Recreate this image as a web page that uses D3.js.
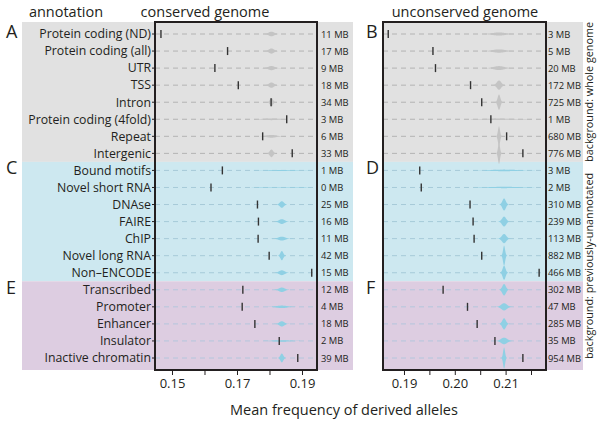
<!DOCTYPE html>
<html><head><meta charset="utf-8">
<script src="https://cdn.jsdelivr.net/npm/d3@7"></script>
<style>
body{margin:0;background:#fff}
svg{display:block;font-family:"Open Sans",sans-serif}
</style>
</head><body>
<svg id="chart" width="600" height="422"></svg>
<script>
// ---------------- data ----------------
const categories = ["Protein coding (ND)","Protein coding (all)","UTR","TSS","Intron","Protein coding (4fold)","Repeat","Intergenic",
  "Bound motifs","Novel short RNA","DNAse","FAIRE","ChIP","Novel long RNA","Non\u2013ENCODE",
  "Transcribed","Promoter","Enhancer","Insulator","Inactive chromatin"];
const rowGroup = [0,0,0,0,0,0,0,0, 1,1,1,1,1,1,1, 2,2,2,2,2];
const leftLetters = ["A","C","E"];
const rightLetters = ["B","D","F"];
const sideLabels = ["background: whole genome","background: previously-unannotated"];

// conserved genome
const consMean = [0.1466,0.1671,0.1632,0.1704,0.1805,0.1853,0.1779,0.1870,
  0.1655,0.1620,0.1763,0.1766,0.1765,0.1799,0.1930,
  0.1718,0.1716,0.1755,0.1830,0.1887];
const consSizeMB = [11,17,9,18,34,3,6,33, 1,0,25,16,11,42,15, 12,4,18,2,39];
const consBgCenter = [0.1806,0.1806,0.1806,0.1806,0.1806,0.1806,0.1806,0.1806,
  0.1838,0.1838,0.1838,0.1838,0.1838,0.1838,0.1838,
  0.1838,0.1838,0.1838,0.1838,0.1838];
const consBgSpread = [0.00087,0.00077,0.00095,0.00074,0.00046,0.0023,0.0014,0.00052,
  0.004,0.006,0.0006,0.00083,0.001,0.00043,0.00083,
  0.0009,0.0016,0.00075,0.0025,0.00045];

// unconserved genome
const uncMean = [0.1869,0.1957,0.1962,0.2031,0.2053,0.2071,0.2102,0.2134,
  0.1931,0.1934,0.2030,0.2036,0.2038,0.2053,0.2166,
  0.1977,0.2025,0.2044,0.2079,0.2134];
const uncSizeMB = [3,5,20,172,725,1,680,776, 3,2,310,239,113,882,466, 302,47,285,35,954];
const uncBgCenter = [0.2087,0.2087,0.2087,0.2087,0.2087,0.2087,0.2087,0.2087,
  0.2097,0.2097,0.2097,0.2097,0.2097,0.2097,0.2097,
  0.2097,0.2097,0.2097,0.2097,0.2097];
const uncBgSpread = [0.0013,0.0012,0.001,0.00043,0.00026,0.003,0.0002,0.00019,
  0.0025,0.003,0.00033,0.0004,0.00043,0.0002,0.00028,
  0.00035,0.00055,0.00035,0.0006,0.00019];

const consTicks = [0.15,0.16,0.17,0.18,0.19];
const consTickLabels = [0.15,0.17,0.19];
const uncTicks = [0.19,0.195,0.20,0.205,0.21,0.215];
const uncTickLabels = [0.19,0.20,0.21];

// ---------------- layout ----------------
(function draw() {
const svg = d3.select("#chart");
const topY = 22, bottomY = 370;
const bandFill = ["#e1e1e1","#cde8f0","#ddcde1"];
const violinFill = ["#c4c4c4","#8fd0e4","#8fd0e4"];
const dashColor = ["#b3b3b3","#a6cad8","#b3c6dc"];
const ink = "#231f20";
const K = 0.005;

const y = d3.scalePoint().domain(d3.range(categories.length)).range([34, 358]);
const step = y.step();
const xL = d3.scaleLinear().domain([0.14477, 0.19462]).range([155, 317]);
const xR = d3.scaleLinear().domain([0.18587, 0.21795]).range([383, 546]);

const groups = d3.range(3).map(g => {
  const rows = d3.range(categories.length).filter(i => rowGroup[i] === g);
  return {g, first: d3.min(rows), last: d3.max(rows)};
});
groups.forEach((gr, k) => {
  gr.y0 = k === 0 ? topY : y(gr.first) - step / 2;
  gr.y1 = k === groups.length - 1 ? bottomY : y(gr.last) + step / 2;
});

groups.forEach(gr => {
  svg.append("rect").attr("x", 22).attr("y", gr.y0).attr("width", 353 - 22).attr("height", gr.y1 - gr.y0).attr("fill", bandFill[gr.g]);
  svg.append("rect").attr("x", 383).attr("y", gr.y0).attr("width", 583 - 383).attr("height", gr.y1 - gr.y0).attr("fill", bandFill[gr.g]);
});

const defs = svg.append("defs");
[["clipL", xL], ["clipR", xR]].forEach(([id, xs]) => {
  defs.append("clipPath").attr("id", id).append("rect")
    .attr("x", xs.range()[0]).attr("y", topY).attr("width", xs.range()[1] - xs.range()[0]).attr("height", bottomY - topY);
});

function violin(xs, cx, sd, yy) {
  const n = 80, pts = [];
  for (let i = 0; i <= n; i++) {
    const t = -3.5 * sd + 7 * sd * i / n;
    const pdf = Math.exp(-0.5 * (t / sd) * (t / sd)) / (sd * Math.sqrt(2 * Math.PI));
    pts.push([xs(cx + t), pdf * K]);
  }
  return d3.area().x(d => d[0]).y0(d => yy - d[1]).y1(d => yy + d[1]).curve(d3.curveBasis)(pts);
}

function panel(xs, clipId, means, centers, spreads) {
  const g = svg.append("g").attr("clip-path", `url(#${clipId})`);
  const rows = d3.range(categories.length);
  g.selectAll("line.dash").data(rows).join("line").attr("class", "dash")
    .attr("x1", xs.range()[0]).attr("x2", xs.range()[1])
    .attr("y1", i => y(i)).attr("y2", i => y(i))
    .attr("stroke", i => dashColor[rowGroup[i]]).attr("stroke-width", 1)
    .attr("stroke-dasharray", "5,4");
  g.selectAll("path.v").data(rows).join("path").attr("class", "v")
    .attr("d", i => violin(xs, centers[i], spreads[i], y(i)))
    .attr("fill", i => violinFill[rowGroup[i]]);
  g.selectAll("line.m").data(rows).join("line").attr("class", "m")
    .attr("x1", i => xs(means[i])).attr("x2", i => xs(means[i]))
    .attr("y1", i => y(i) - 4).attr("y2", i => y(i) + 4)
    .attr("stroke", "#333").attr("stroke-width", 1.4);
  svg.append("rect").attr("x", xs.range()[0]).attr("y", topY)
    .attr("width", xs.range()[1] - xs.range()[0]).attr("height", bottomY - topY)
    .attr("fill", "none").attr("stroke", ink).attr("stroke-width", 2);
}

panel(xL, "clipL", consMean, consBgCenter, consBgSpread);
panel(xR, "clipR", uncMean, uncBgCenter, uncBgSpread);

svg.selectAll("line.rt").data(d3.range(categories.length)).join("line").attr("class", "rt")
  .attr("x1", 152).attr("x2", 155).attr("y1", i => y(i)).attr("y2", i => y(i))
  .attr("stroke", ink).attr("stroke-width", 1);

svg.selectAll("text.cat").data(categories).join("text").attr("class", "cat")
  .attr("x", 151).attr("y", (d, i) => y(i) + 4.3)
  .attr("text-anchor", "end").attr("font-size", 12.3).attr("fill", ink).text(d => d);

svg.selectAll("text.sl").data(consSizeMB).join("text").attr("class", "sl")
  .attr("x", 321).attr("y", (d, i) => y(i) + 3.5)
  .attr("font-size", 9.4).attr("fill", ink).text(d => `${d} MB`);
svg.selectAll("text.sr").data(uncSizeMB).join("text").attr("class", "sr")
  .attr("x", 548).attr("y", (d, i) => y(i) + 3.5)
  .attr("font-size", 9.4).attr("fill", ink).text(d => `${d} MB`);

groups.forEach((gr, k) => {
  svg.append("text").attr("x", 6).attr("y", y(gr.first) + 4).attr("font-size", 18).attr("fill", ink).text(leftLetters[k]);
  svg.append("text").attr("x", 366).attr("y", y(gr.first) + 4).attr("font-size", 18).attr("fill", ink).text(rightLetters[k]);
});

[[groups[0].y0, groups[0].y1], [groups[1].y0, groups[2].y1]].forEach(([a, b], k) => {
  const cy = (a + b) / 2;
  svg.append("text").attr("transform", `translate(593,${cy}) rotate(-90)`)
    .attr("text-anchor", "middle").attr("font-size", 10.8).attr("fill", ink).text(sideLabels[k]);
});

function axis(xs, ticks, labels) {
  const lab = new Set(labels.map(v => v.toFixed(3)));
  const a = d3.axisBottom(xs).tickValues(ticks).tickSize(5).tickPadding(4)
    .tickFormat(v => lab.has(v.toFixed(3)) ? v.toFixed(2) : "");
  const g = svg.append("g").attr("transform", `translate(0,${bottomY})`).call(a);
  g.select(".domain").remove();
  g.selectAll(".tick line").attr("stroke", ink);
  g.selectAll(".tick text").attr("font-size", 13).attr("fill", ink).attr("font-family", '"Open Sans",sans-serif');
}
axis(xL, consTicks, consTickLabels);
axis(xR, uncTicks, uncTickLabels);

svg.append("text").attr("x", 66).attr("y", 17).attr("text-anchor", "middle").attr("font-size", 14.5).attr("fill", ink).text("annotation");
svg.append("text").attr("x", 205).attr("y", 17).attr("text-anchor", "middle").attr("font-size", 14.5).attr("fill", ink).text("conserved genome");
svg.append("text").attr("x", 465).attr("y", 17).attr("text-anchor", "middle").attr("font-size", 14.5).attr("fill", ink).text("unconserved genome");
svg.append("text").attr("x", 344).attr("y", 415).attr("text-anchor", "middle").attr("font-size", 14.5).attr("fill", ink).text("Mean frequency of derived alleles");
})();
</script>
</body></html>
